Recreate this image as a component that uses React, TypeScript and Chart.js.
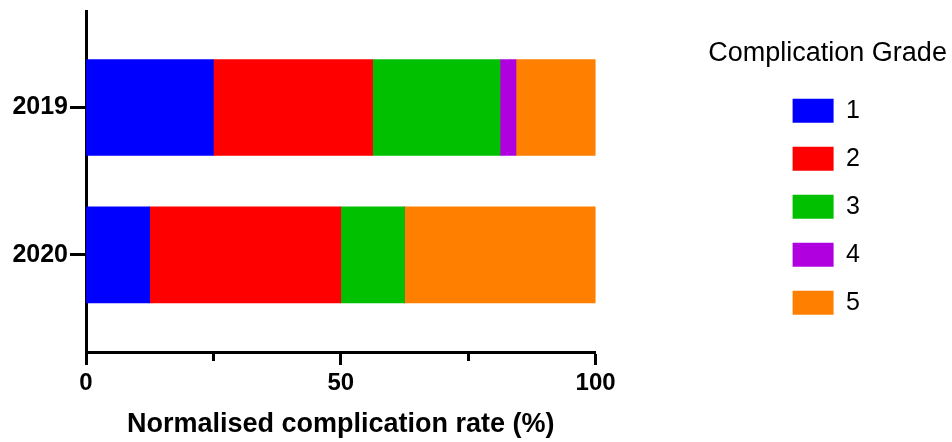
import React, { useEffect, useRef } from 'react';
import { Chart, registerables } from 'chart.js';

Chart.register(...registerables);

const categories = ['2019', '2020'];
const gradeLabels = ['1', '2', '3', '4', '5'];
const grade1 = [25, 12.5];
const grade2 = [31.25, 37.5];
const grade3 = [25, 12.5];
const grade4 = [3.125, 0];
const grade5 = [15.625, 37.5];
const gradeSeries = [grade1, grade2, grade3, grade4, grade5];
const gradeColors = ['#0000FF', '#FF0000', '#00C000', '#B000E0', '#FF8000'];
const xTickValues = [0, 25, 50, 75, 100];
const xTickLabels = ['0', '', '50', '', '100'];
const legendTitle = 'Complication Grade';

const FONT = '"Liberation Sans", Arial, Helvetica, sans-serif';

const legendTitlePlugin = {
  id: 'legendTitleText',
  afterDraw(chart: any) {
    const lg = chart.legend;
    if (!lg || !lg.legendHitBoxes || !lg.legendHitBoxes.length) return;
    const ctx = chart.ctx;
    const first = lg.legendHitBoxes[0];
    ctx.save();
    ctx.font = `27px ${FONT}`;
    ctx.fillStyle = '#000';
    ctx.textAlign = 'center';
    ctx.textBaseline = 'middle';
    ctx.fillText(legendTitle, first.left + 35, lg.top + 43);
    ctx.restore();
  },
};

export default function App() {
  const canvasRef = useRef<HTMLCanvasElement | null>(null);

  useEffect(() => {
    if (!canvasRef.current) return;
    Chart.defaults.color = '#000';
    Chart.defaults.font.family = FONT;

    const datasets = gradeSeries.map((series, k) => ({
      label: gradeLabels[k],
      data: series.map((v, i) => ({ x: v, y: i })),
      backgroundColor: gradeColors[k],
      borderWidth: 0,
      barThickness: 96,
    }));

    const chart = new Chart(canvasRef.current, {
      type: 'bar',
      data: { datasets },
      plugins: [legendTitlePlugin],
      options: {
        indexAxis: 'y',
        animation: false,
        responsive: true,
        maintainAspectRatio: false,
        layout: { padding: { top: 11, right: 82, bottom: 0, left: 0 } },
        scales: {
          x: {
            type: 'linear',
            stacked: true,
            min: 0,
            max: 100,
            offset: false,
            afterBuildTicks: (s: any) => {
              s.ticks = xTickValues.map((v) => ({ value: v }));
            },
            afterFit: (s: any) => {
              s.height = 90;
            },
            ticks: {
              padding: 4,
              color: '#000',
              font: { size: 24, weight: 'bold', family: FONT },
              callback: (_v: any, i: number) => xTickLabels[i],
              maxRotation: 0,
              autoSkip: false,
            },
            grid: {
              display: true,
              offset: false,
              drawOnChartArea: false,
              drawTicks: true,
              tickLength: 13,
              tickWidth: 3,
              tickColor: '#000',
              tickBorderDash: (ctx: any) => (xTickLabels[ctx.index] === '' ? [7, 100] : []),
            },
            border: { display: true, color: '#000', width: 3 },
            title: {
              display: true,
              text: 'Normalised complication rate (%)',
              color: '#000',
              font: { size: 27, weight: 'bold', family: FONT },
              padding: { top: 0, bottom: 1 },
            },
          },
          y: {
            type: 'linear',
            stacked: true,
            reverse: true,
            offset: false,
            min: -0.654,
            max: 1.658,
            afterBuildTicks: (s: any) => {
              s.ticks = categories.map((_c, i) => ({ value: i }));
            },
            afterFit: (s: any) => {
              s.width = 86;
              s.paddingTop = 0;
              s.paddingBottom = 0;
            },
            ticks: {
              padding: 2,
              color: '#000',
              font: { size: 25, weight: 'bold', family: FONT },
              callback: (v: any) => categories[v] ?? '',
              autoSkip: false,
            },
            grid: {
              display: true,
              offset: false,
              drawOnChartArea: false,
              drawTicks: true,
              tickLength: 16,
              tickWidth: 3,
              tickColor: '#000',
            },
            border: { display: true, color: '#000', width: 3 },
          },
          yR: {
            type: 'linear',
            position: 'right',
            display: true,
            ticks: { display: false },
            grid: { display: false },
            border: { display: false },
            afterFit: (s: any) => {
              s.width = 174;
              s.paddingTop = 0;
              s.paddingBottom = 0;
            },
          },
        },
        plugins: {
          tooltip: { enabled: false },
          legend: {
            position: 'right',
            align: 'start',
            title: {
              display: true,
              text: '',
              font: { size: 26, family: FONT },
              padding: { top: 29, bottom: 4 },
            },
            labels: {
              boxWidth: 41,
              boxHeight: 24,
              padding: 23,
              color: '#000',
              font: { size: 25, family: FONT },
            },
          },
        },
      } as any,
    });

    return () => chart.destroy();
  }, []);

  return (
    <div style={{ position: 'absolute', left: 0, top: 0, width: 952, height: 442 }}>
      <canvas ref={canvasRef} />
    </div>
  );
}
